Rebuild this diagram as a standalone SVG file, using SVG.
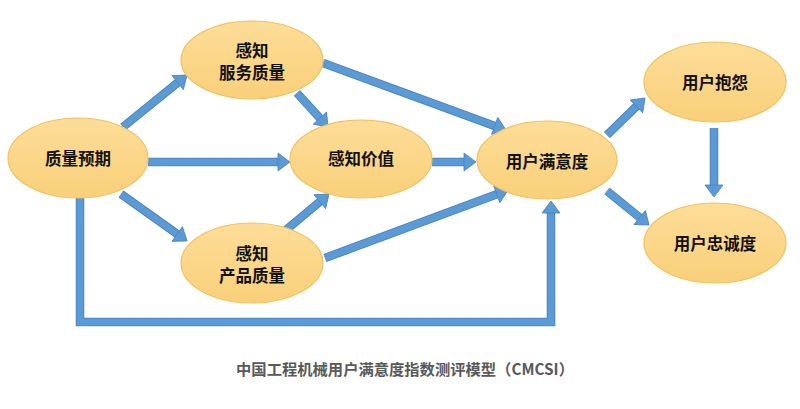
<svg xmlns="http://www.w3.org/2000/svg" xmlns:xlink="http://www.w3.org/1999/xlink" width="800" height="409" viewBox="0 0 800 409">
<style>
.node ellipse{fill:url(#g);stroke:#F2C15E;stroke-width:1.2}
.node text{font-family:"Noto Sans CJK SC","Liberation Sans",sans-serif;font-weight:bold;font-size:16.5px;fill:#111;text-anchor:middle}
.ol{fill:none;stroke:#4A7EBB;stroke-width:8.5}
.sh{fill:none;stroke:#5B9BD5;stroke-width:6.8;marker-end:url(#ah)}
.title{font-family:"Noto Sans CJK SC","Liberation Sans",sans-serif;font-weight:bold;font-size:15.3px;fill:#595959;text-anchor:middle}
</style>
<defs>
<linearGradient id="g" x1="0" y1="0" x2="0" y2="1">
<stop offset="0" stop-color="#FDDD98"/>
<stop offset="1" stop-color="#F9D07A"/>
</linearGradient>
<marker id="ah" markerUnits="userSpaceOnUse" markerWidth="14" markerHeight="20" refX="0" refY="9" orient="auto" overflow="visible">
<path d="M0,0 L12,9 L0,18 z" fill="#5B9BD5" stroke="#4A7EBB" stroke-width="0.8"/>
</marker>
<path id="c1" d="M123,127 L177.7,82.6"/>
<path id="c2" d="M148,162 L278,162"/>
<path id="c3" d="M121,194 L177.2,234"/>
<path id="c4" d="M297,93 L319.9,118.1"/>
<path id="c5" d="M323,63 L494.7,125.9"/>
<path id="c6" d="M432,162 L464,162"/>
<path id="c7" d="M286,230 L319.8,201.7"/>
<path id="c8" d="M325,258 L496.8,194.2"/>
<path id="c9" d="M80,198 V322 H551 V213"/>
<path id="c10" d="M607,135 L636.4,106.4"/>
<path id="c11" d="M714,128 L714,185"/>
<path id="c12" d="M607,191 L639.7,217.5"/>
</defs>
<rect width="800" height="409" fill="#fff"/>
<g id="connectors">
<use xlink:href="#c1" class="ol"/><use xlink:href="#c2" class="ol"/><use xlink:href="#c3" class="ol"/>
<use xlink:href="#c4" class="ol"/><use xlink:href="#c5" class="ol"/><use xlink:href="#c6" class="ol"/>
<use xlink:href="#c7" class="ol"/><use xlink:href="#c8" class="ol"/><use xlink:href="#c9" class="ol"/>
<use xlink:href="#c10" class="ol"/><use xlink:href="#c11" class="ol"/><use xlink:href="#c12" class="ol"/>
<path d="M123,127 L177.7,82.6" class="sh"/>
<path d="M148,162 L278,162" class="sh"/>
<path d="M121,194 L177.2,234" class="sh"/>
<path d="M297,93 L319.9,118.1" class="sh"/>
<path d="M323,63 L494.7,125.9" class="sh"/>
<path d="M432,162 L464,162" class="sh"/>
<path d="M286,230 L319.8,201.7" class="sh"/>
<path d="M325,258 L496.8,194.2" class="sh"/>
<path d="M80,198 V322 H551 V213" class="sh"/>
<path d="M607,135 L636.4,106.4" class="sh"/>
<path d="M714,128 L714,185" class="sh"/>
<path d="M607,191 L639.7,217.5" class="sh"/>
</g>
<g id="n-expect" class="node"><ellipse cx="78" cy="158" rx="70" ry="40"/><text x="78" y="165">质量预期</text></g>
<g id="n-service" class="node"><ellipse cx="252" cy="60" rx="71" ry="39"/><text x="252" y="57">感知</text><text x="252" y="79">服务质量</text></g>
<g id="n-value" class="node"><ellipse cx="361" cy="159" rx="71" ry="39"/><text x="361" y="165">感知价值</text></g>
<g id="n-product" class="node"><ellipse cx="252" cy="263" rx="71" ry="40"/><text x="252" y="260">感知</text><text x="252" y="282">产品质量</text></g>
<g id="n-satisfy" class="node"><ellipse cx="547" cy="160" rx="70" ry="39"/><text x="547" y="168">用户满意度</text></g>
<g id="n-complain" class="node"><ellipse cx="715" cy="82" rx="71" ry="40"/><text x="715" y="89">用户抱怨</text></g>
<g id="n-loyal" class="node"><ellipse cx="715" cy="243" rx="71" ry="40"/><text x="715" y="250">用户忠诚度</text></g>
<text class="title" x="405" y="375">中国工程机械用户满意度指数测评模型（CMCSI）</text>
</svg>
